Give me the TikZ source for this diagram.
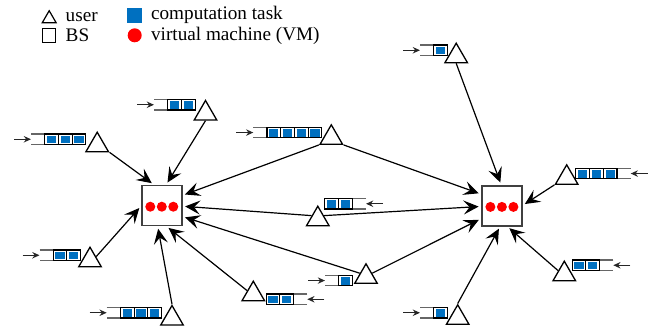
\documentclass[tikz,border=0pt]{standalone}
\usepackage{fontspec}
\setmainfont{Liberation Serif}
\usetikzlibrary{shapes.geometric,arrows.meta,calc}
\definecolor{task-blue}{HTML}{0070C0}
\definecolor{vm-red}{HTML}{FF0000}

\tikzset{
  user/.style={regular polygon, regular polygon sides=3, draw, line width=0.65pt, inner sep=0pt, minimum size=13pt},
  bs/.style={draw=black!75, line width=0.9pt, minimum size=20pt, inner sep=0pt},
  link/.style={-{Stealth[length=7.5pt,width=7pt,inset=3pt]}, line width=0.6pt, shorten >=1.2pt},
  arrive/.style={-{Stealth[length=3.6pt,width=3.2pt]}, line width=0.6pt, black!85},
  qframe/.style={draw=black!60, line width=0.55pt},
  qcell/.style={draw, line width=0.55pt},
  vm/.style={fill=vm-red},
  task/.style={fill=task-blue},
}

% #1 name, #2 open end of the top line, #3 tasks waiting, #4 = 1 arrivals from the left, -1 from the right
\newcommand{\taskqueue}[4]{%
  \coordinate (#1-open) at (#2);
  \draw[qframe] (#1-open) -- ++({(#4)*(#3+1)*13.7},0) -- ++(0,10.5) -- ++({(-1)*(#4)*(#3+1)*13.7},0);
  \foreach \n in {1,...,#3}{
    \draw[qcell] ($(#1-open)+({(#4)*\n*13.7},0)$) rectangle ++({(#4)*13.7},10.5);
    \fill[task] ($(#1-open)+({(#4)*(\n+0.5)*13.7-4.6},1.6)$) rectangle ++(9.2,7.6);
  }
  \coordinate (#1-in) at ($(#1-open)+(0,5.25)$);
  \coordinate (#1-src) at ($(#1-in)+({(-1)*(#4)*17},0)$);
  \draw[arrive] (#1-src) -- (#1-in);
}

\begin{document}
\begin{tikzpicture}[x=0.5pt, y=-0.5pt, font=\fontsize{9.6}{11.5}\selectfont]
\useasboundingbox (0,0) rectangle (655,328);

% key
\node[user, minimum size=8pt, line width=0.6pt] (keyuser) at (49.2,18.7) {};
\node[anchor=base west, inner sep=0pt] (keyusertxt) at (65.3,21) {user};
\node[draw, line width=0.6pt, minimum width=6.3pt, minimum height=7pt, inner sep=0pt] (keybs) at (49,35.2) {};
\node[anchor=base west, inner sep=0pt] (keybstxt) at (65.3,41.3) {BS};
\node[task, minimum size=7.2pt, inner sep=0pt] (keytask) at (134.3,15.5) {};
\node[anchor=base west, inner sep=0pt] (keytasktxt) at (150.7,19.6) {computation task};
\node[vm, circle, minimum size=7pt, inner sep=0pt] (keyvm) at (134.7,35.3) {};
\node[anchor=base west, inner sep=0pt] (keyvmtxt) at (150.7,40.4) {virtual machine (VM)};

% base stations
\node[bs] (bsL) at (161.8,205.5) {};
\node[bs] (bsR) at (501.9,205.7) {};
\foreach \d in {-11.5,0,11.5}{
  \fill[vm] ($(bsL)+(\d,1.2)$) circle[radius=2.5pt];
  \fill[vm] ($(bsR)+(\d,1.2)$) circle[radius=2.5pt];
}

% users
\node[user] (u1) at (205.5,113.5) {};
\node[user] (u2) at (97.2,145.2) {};
\node[user] (u3) at (90,260.2) {};
\node[user] (u4) at (172,318.5) {};
\node[user] (u5) at (253.3,294.2) {};
\node[user] (u6) at (366,276.8) {};
\node[user] (u7) at (317.8,219.2) {};
\node[user] (u8) at (331.3,137.8) {};
\node[user] (u9) at (456.2,56.2) {};
\node[user] (u10) at (566.7,177.8) {};
\node[user] (u11) at (564.3,274.2) {};
\node[user] (u12) at (457.7,317.8) {};

% task queues
\taskqueue{q1}{154,99.5}{2}{1}
\taskqueue{q2}{31,134}{3}{1}
\taskqueue{q3}{39.5,250}{2}{1}
\taskqueue{q4}{106.7,307.5}{3}{1}
\taskqueue{q5}{307.3,294}{2}{-1}
\taskqueue{q6}{325,275.3}{1}{1}
\taskqueue{q7}{366,198.5}{2}{-1}
\taskqueue{q8}{253.3,127.3}{4}{1}
\taskqueue{q9}{420,45}{1}{1}
\taskqueue{q10}{630.7,168.3}{3}{-1}
\taskqueue{q11}{613.3,260}{2}{-1}
\taskqueue{q12}{420,307.5}{1}{1}

% offloading links
\draw[link] (u1.side 2) -- (bsL.78);
\draw[link] (u2.corner 3) -- (bsL.111);
\draw[link] (u3.side 3) -- (bsL.182);
\draw[link] (u4.corner 1) -- (bsL.-101);
\draw[link] (u5.side 1) -- (bsL.-77);
\draw[link] (u6.side 1) -- (bsL.-28);
\draw[link] (u7.side 1) -- (bsL.-2);
\draw[link] (u8.corner 2) -- (bsL.26);
\draw[link] (u8.corner 3) -- (bsR.151);
\draw[link] (u7.side 3) -- (bsR.182);
\draw[link] (u6.side 3) -- (bsR.212);
\draw[link] (u9.side 2) -- (bsR.92);
\draw[link] (u10.corner 2) -- (bsR.1);
\draw[link] (u11.side 1) -- (bsR.-75);
\draw[link] (u12.corner 1) -- (bsR.-95);
\end{tikzpicture}
\end{document}
